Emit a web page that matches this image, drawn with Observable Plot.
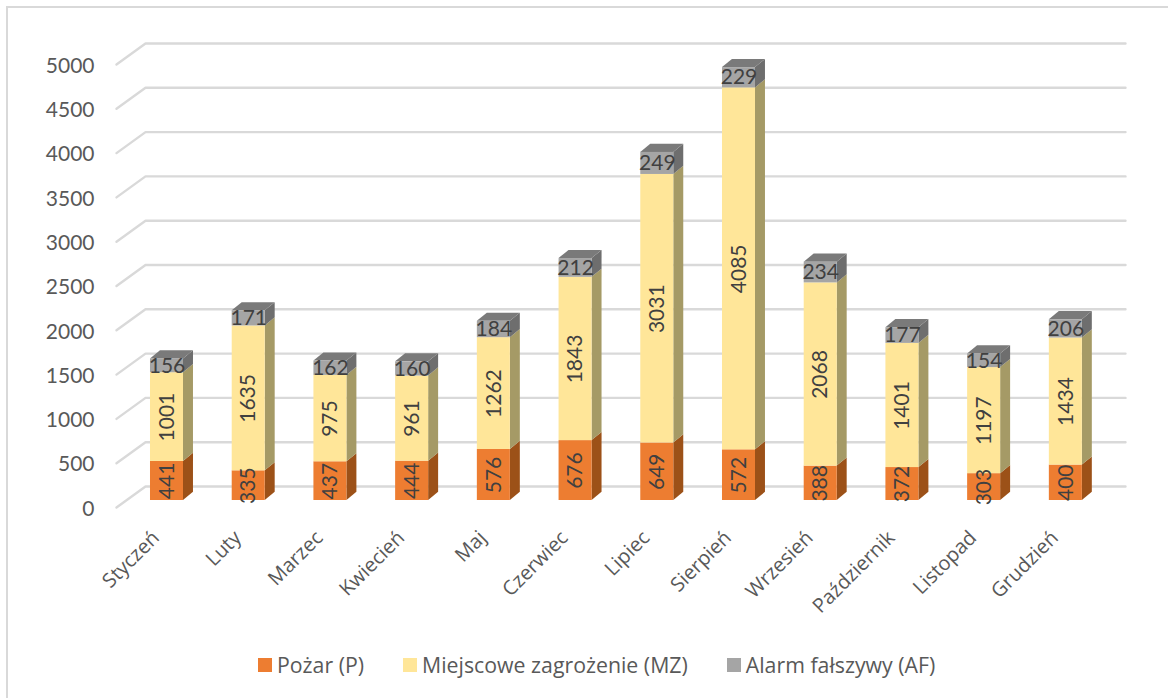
<!DOCTYPE html>
<html lang="pl">
<head>
<meta charset="utf-8">
<script src="https://cdn.jsdelivr.net/npm/d3@7"></script>
<script src="https://cdn.jsdelivr.net/npm/@observablehq/plot@0.6"></script>
<style>
  html, body { margin: 0; padding: 0; background: #fff; }
  #stage { position: relative; width: 1168px; height: 698px; overflow: hidden; }
  #frame { position: absolute; left: 6px; top: 6px; right: -4px; bottom: -4px; border-left: 2px solid #d9d9d9; border-top: 2px solid #d9d9d9; }
  #chart { position: absolute; left: 0; top: 0; }
  #legend { position: absolute; top: 650px; left: 258px; display: flex; align-items: center; font: 21.3px "Open Sans", sans-serif; color: #595959; white-space: nowrap; }
  #legend .item { display: flex; align-items: center; margin-right: 39px; }
  #legend .sw { width: 14px; height: 14px; margin-right: 5px; display: inline-block; }
</style>
</head>
<body>
<div id="stage">
  <div id="frame"></div>
  <div id="chart"></div>
  <div id="legend"></div>
</div>
<script>
const months = ["Styczeń","Luty","Marzec","Kwiecień","Maj","Czerwiec","Lipiec","Sierpień","Wrzesień","Październik","Listopad","Grudzień"];
const pozar = [441,335,437,444,576,676,649,572,388,372,303,400];
const zagrozenie = [1001,1635,975,961,1262,1843,3031,4085,2068,1401,1197,1434];
const alarm = [156,171,162,160,184,212,249,229,234,177,154,206];
const yTicks = [0,500,1000,1500,2000,2500,3000,3500,4000,4500,5000];
const seriesNames = ["Pożar (P)","Miejscowe zagrożenie (MZ)","Alarm fałszywy (AF)"];
const frontColors = ["#ED7D31","#FFE699","#A5A5A5"];
const sideColors = ["#9C5118","#A59A66","#6E6E6E"];
const topColor = "#7A7A7A";

// Depth of the pseudo-3D box, in data units of the two scales.
const halfW = 0.202, depthX = 0.122, depthY = 92;
const floorShift = 79;                 // bars stand this far up the floor
const backX = 0.355, backY = 237;      // offset of the back wall
const xDomain = [-0.618, 11.73];

const series = [pozar, zagrozenie, alarm];
const segs = [];
months.forEach((m, i) => {
  let base = floorShift;
  series.forEach((vals, s) => {
    segs.push({i, s, v: vals[i], y0: base, y1: base + vals[i]});
    base += vals[i];
  });
});

const sideFaces = segs.flatMap(d => [
  {k: d.i + "-" + d.s, s: d.s, x: d.i + halfW, lo: d.y0, hi: d.y1},
  {k: d.i + "-" + d.s, s: d.s, x: d.i + halfW + depthX, lo: d.y0 + depthY, hi: d.y1 + depthY}
]);
const topFaces = segs.filter(d => d.s === 2).flatMap(d => [
  {k: d.i, x: d.i - halfW, lo: d.y1, hi: d.y1},
  {k: d.i, x: d.i - halfW + depthX, lo: d.y1, hi: d.y1 + depthY},
  {k: d.i, x: d.i + halfW, lo: d.y1, hi: d.y1 + depthY},
  {k: d.i, x: d.i + halfW + depthX, lo: d.y1 + depthY, hi: d.y1 + depthY}
]);
const grid = yTicks.flatMap(t => [
  {t, x: xDomain[0], y: t},
  {t, x: xDomain[0] + backX, y: t + backY},
  {t, x: xDomain[1], y: t + backY}
]);

const labelFont = "Lato, sans-serif";
const chart = Plot.plot({
  width: 1168, height: 630,
  marginLeft: 116, marginRight: 43, marginTop: 64, marginBottom: 123,
  style: {background: "transparent", overflow: "visible"},
  x: {domain: xDomain},
  y: {domain: [0, 5000]},
  marks: [
    Plot.line(grid, {x: "x", y: "y", z: "t", stroke: "#d9d9d9", strokeWidth: 2.4}),
    ...[0,1,2].map(s => Plot.area(sideFaces.filter(d => d.s === s), {x1: "x", y1: "lo", y2: "hi", z: "k", fill: sideColors[s]})),
    Plot.area(topFaces, {x1: "x", y1: "lo", y2: "hi", z: "k", fill: topColor}),
    Plot.rect(segs, {x1: d => d.i - halfW, x2: d => d.i + halfW, y1: "y0", y2: "y1", fill: d => frontColors[d.s]}),
    Plot.text(segs.filter(d => d.s < 2), {x: "i", y: d => (d.y0 + d.y1) / 2, text: d => String(d.v), rotate: -90, fontSize: 21, fill: "#404040", fontFamily: labelFont}),
    Plot.text(segs.filter(d => d.s === 2), {x: "i", y: d => (d.y0 + d.y1) / 2, text: d => String(d.v), fontSize: 21, fill: "#404040", fontFamily: labelFont}),
    Plot.axisY({ticks: yTicks, tickSize: 0, tickPadding: 22, dy: 1.5, label: null, tickFormat: d => String(d), fontSize: 21, fontFamily: labelFont, color: "#595959"}),
    Plot.axisX({ticks: d3.range(months.length), tickFormat: i => months[i], tickSize: 0, tickPadding: 27, tickRotate: -45, dx: -11, label: null, fontSize: 20, fontFamily: "'Open Sans', sans-serif", color: "#595959"})
  ]
});
document.getElementById("chart").appendChild(chart);

const legend = document.getElementById("legend");
seriesNames.forEach((name, i) => {
  const item = document.createElement("span");
  item.className = "item";
  const sw = document.createElement("span");
  sw.className = "sw";
  sw.style.background = frontColors[i];
  item.appendChild(sw);
  item.appendChild(document.createTextNode(name));
  legend.appendChild(item);
});
</script>
</body>
</html>
